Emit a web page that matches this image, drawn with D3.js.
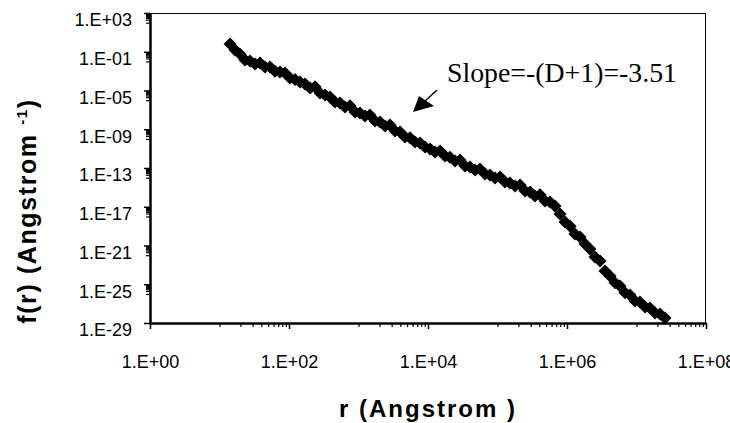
<!DOCTYPE html>
<html>
<head>
<meta charset="utf-8">
<script src="https://cdn.jsdelivr.net/npm/d3@7"></script>
<style>
  html, body { margin: 0; padding: 0; background: #fff; }
  svg { display: block; }
</style>
</head>
<body>
<svg id="chart" width="730" height="423"></svg>
<script>
// Pair distribution f(r) against r, both on log scales
const radius = [
  14.2, 16.7, 19.7, 23.3, 27.5, 32.4, 38.3, 45.1, 53.3, 62.9,
  74.2, 87.6, 103, 122, 144, 170, 201, 237, 279, 330,
  389, 459, 542, 639, 755, 890, 1050, 1240, 1460, 1730,
  2040, 2410, 2840, 3350, 3960, 4670, 5510, 6500, 7670, 9050,
  10700, 12600, 14900, 17600, 20700, 24500, 28900, 34100, 40200, 47500,
  56000, 66100, 78000, 92100, 1.09e5, 1.28e5, 1.51e5, 1.79e5, 2.11e5, 2.49e5,
  2.94e5, 3.46e5, 4.09e5, 4.83e5, 5.69e5, 6.72e5, 7.93e5, 9.36e5, 1.11e6, 1.30e6,
  1.54e6, 1.82e6, 2.14e6, 2.53e6, 2.99e6, 3.52e6, 4.16e6, 4.91e6, 5.79e6, 6.83e6,
  8.07e6, 9.52e6, 1.12e7, 1.33e7, 1.56e7, 1.85e7, 2.18e7, 2.57e7
];
const fValue = [
  6.3e-1, 1.5e-1, 5.9e-2, 1.4e-2, 1.1e-2, 5.4e-3, 6.9e-3, 2.7e-3, 2.7e-3, 1.0e-3,
  8.1e-4, 6.4e-4, 2.0e-4, 1.4e-4, 7.5e-5, 4.6e-5, 1.8e-5, 2.4e-5, 5.5e-6, 3.4e-6,
  2.1e-6, 6.5e-7, 5.1e-7, 2.0e-7, 2.6e-7, 6.0e-8, 4.8e-8, 2.3e-8, 2.9e-8, 7.1e-9,
  5.5e-9, 2.2e-9, 2.8e-9, 6.6e-10, 5.2e-10, 1.6e-10, 1.3e-10, 4.8e-11, 3.8e-11, 1.5e-11,
  9.0e-12, 4.5e-12, 5.8e-12, 1.7e-12, 1.3e-12, 5.3e-13, 6.8e-13, 1.6e-13, 1.3e-13, 6.2e-14,
  7.9e-14, 2.4e-14, 1.9e-14, 9.3e-15, 1.2e-14, 3.6e-15, 2.8e-15, 1.4e-15, 1.8e-15, 4.2e-16,
  3.3e-16, 1.3e-16, 1.7e-16, 3.9e-17, 3.1e-17, 1.2e-17, 1.8e-18, 2.7e-19, 1.0e-19, 1.5e-20,
  7.5e-21, 1.4e-21, 4.4e-22, 6.5e-23, 2.5e-23, 2.3e-24, 7.1e-25, 1.4e-25, 6.6e-26, 1.3e-26,
  7.8e-27, 1.9e-27, 1.5e-27, 4.5e-28, 3.5e-28, 1.1e-28, 8.5e-29, 3.3e-29
];

const xMajorTicks = [1e0, 1e2, 1e4, 1e6, 1e8];
const yMajorTicks = [1e-29, 1e-25, 1e-21, 1e-17, 1e-13, 1e-9, 1e-5, 1e-1, 1e3];
const slopeNote = "Slope=-(D+1)=-3.51";
const xTitle = "r (Angstrom )";

const svg = d3.select("#chart");
const W = 730, H = 423;
const plot = { left: 150, right: 706, top: 13, bottom: 323 };

svg.append("rect").attr("width", W).attr("height", H).attr("fill", "#fff");

const x = d3.scaleLog().domain([1e0, 1e8]).range([plot.left, plot.right]);
const y = d3.scaleLog().domain([1e-29, 1e3]).range([plot.bottom, plot.top]);

// Excel-style labels such as 1.E+03 / 1.E-29
const expLabel = v => {
  const e = Math.round(Math.log10(v));
  return "1.E" + (e < 0 ? "-" : "+") + String(Math.abs(e)).padStart(2, "0");
};

// minor ticks: linear steps of one tenth of each major interval
function minorTicks(majors) {
  const out = [];
  for (let i = 0; i < majors.length - 1; i++) {
    const step = majors[i + 1] / 10;
    for (let k = 1; k <= 9; k++) out.push(step * k);
  }
  return out;
}

const font = "'Liberation Sans', Arial, sans-serif";

// plot frame (thin top/right, heavier axis lines)
svg.append("line").attr("x1", plot.left).attr("x2", plot.right)
  .attr("y1", plot.top + 0.5).attr("y2", plot.top + 0.5)
  .attr("stroke", "#000").attr("stroke-width", 1);
svg.append("line").attr("x1", plot.right - 0.5).attr("x2", plot.right - 0.5)
  .attr("y1", plot.top).attr("y2", plot.bottom)
  .attr("stroke", "#000").attr("stroke-width", 1);

// minor ticks
svg.append("g").attr("transform", `translate(0,${plot.bottom})`)
  .call(d3.axisBottom(x).tickValues(minorTicks(xMajorTicks)).tickSize(4).tickFormat(""))
  .call(g => g.select(".domain").remove())
  .call(g => g.selectAll("line").attr("stroke-width", 1.2));
svg.append("g").attr("transform", `translate(${plot.left},0)`)
  .call(d3.axisLeft(y).tickValues(minorTicks(yMajorTicks)).tickSize(4).tickFormat(""))
  .call(g => g.select(".domain").remove())
  .call(g => g.selectAll("line").attr("stroke-width", 1.2));

// major ticks + labels
const xAxis = svg.append("g").attr("transform", `translate(0,${plot.bottom})`)
  .call(d3.axisBottom(x).tickValues(xMajorTicks).tickSize(6).tickSizeOuter(0)
    .tickPadding(26).tickFormat(expLabel));
xAxis.select(".domain").attr("stroke-width", 2.5);
xAxis.selectAll("line").attr("stroke-width", 1.5);
xAxis.selectAll("text").attr("font-family", font).attr("font-size", 18)
  .attr("fill", "#000");

const yAxis = svg.append("g").attr("transform", `translate(${plot.left},0)`)
  .call(d3.axisLeft(y).tickValues(yMajorTicks).tickSize(6).tickSizeOuter(0)
    .tickPadding(12).tickFormat(expLabel));
yAxis.select(".domain").attr("stroke-width", 2.5);
yAxis.selectAll("line").attr("stroke-width", 1.5);
yAxis.selectAll("text").attr("font-family", font).attr("font-size", 18)
  .attr("fill", "#000").attr("dy", "0.72em");

// data markers: filled diamonds, dense enough to merge into a band
const h = 6.5;
const diamond = `M0,${-h}L${h},0L0,${h}L${-h},0Z`;
svg.append("g").selectAll("path")
  .data(radius.map((r, i) => [r, fValue[i]]))
  .join("path")
  .attr("d", diamond)
  .attr("transform", d => `translate(${x(d[0])},${y(d[1])})`)
  .attr("fill", "#000");

// slope annotation with arrow
svg.append("text").attr("x", 447).attr("y", 82)
  .attr("font-family", "'Liberation Serif', 'Times New Roman', serif")
  .attr("font-size", 27).attr("fill", "#000")
  .attr("textLength", 230).attr("lengthAdjust", "spacingAndGlyphs")
  .text(slopeNote);
svg.append("line").attr("x1", 437).attr("y1", 90).attr("x2", 424).attr("y2", 102)
  .attr("stroke", "#000").attr("stroke-width", 1.5);
svg.append("path").attr("d", "M413,112L419,96L434,106Z").attr("fill", "#000");

// axis titles
svg.append("text").attr("x", (plot.left + plot.right) / 2).attr("y", 417)
  .attr("text-anchor", "middle").attr("font-family", font)
  .attr("font-weight", "bold").attr("font-size", 24).attr("letter-spacing", 2)
  .attr("fill", "#000").text(xTitle);

const yTitle = svg.append("text")
  .attr("transform", "translate(36,211) rotate(-90)")
  .attr("text-anchor", "middle").attr("font-family", font)
  .attr("font-weight", "bold").attr("font-size", 25).attr("letter-spacing", 1.6)
  .attr("fill", "#000");
yTitle.append("tspan").text("f(r) (Angstrom ");
yTitle.append("tspan").attr("font-size", 15).attr("dy", -9).text("-1");
yTitle.append("tspan").attr("dy", 9).text(")");
</script>
</body>
</html>
